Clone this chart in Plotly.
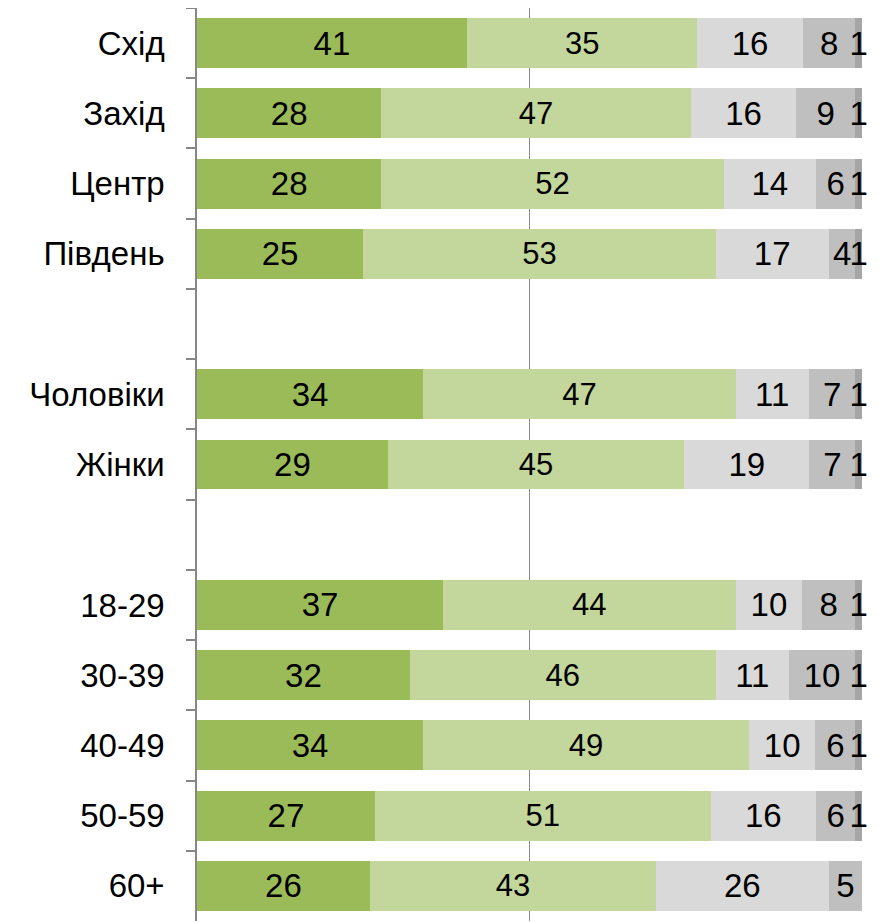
import plotly.graph_objects as go

categories = ["Схід", "Захід", "Центр", "Південь", " ",
              "Чоловіки", "Жінки", "  ",
              "18-29", "30-39", "40-49", "50-59", "60+"]

series_names = ["Варіант 1", "Варіант 2", "Варіант 3", "Варіант 4", "Варіант 5"]

s1 = [41, 28, 28, 25, None, 34, 29, None, 37, 32, 34, 27, 26]
s2 = [35, 47, 52, 53, None, 47, 45, None, 44, 46, 49, 51, 43]
s3 = [16, 16, 14, 17, None, 11, 19, None, 10, 11, 10, 16, 26]
s4 = [8, 9, 6, 4, None, 7, 7, None, 8, 10, 6, 6, 5]
s5 = [1, 1, 1, 1, None, 1, 1, None, 1, 1, 1, 1, None]

colors = ["#9BBB59", "#C3D69B", "#D9D9D9", "#BFBFBF", "#A6A6A6"]
font_sizes = [33, 31, 33, 33, 33]

fig = go.Figure()
for name, vals, col, fs in zip(series_names, [s1, s2, s3, s4, s5], colors, font_sizes):
    fig.add_trace(go.Bar(
        name=name,
        y=categories,
        x=vals,
        orientation="h",
        marker=dict(color=col, line=dict(width=0)),
        text=["" if v is None else str(v) for v in vals],
        texttemplate="%{text}",
        textposition="inside",
        insidetextanchor="middle",
        constraintext="none",
        insidetextfont=dict(color="black", size=fs, family="Liberation Sans, Arial"),
        cliponaxis=False,
        hoverinfo="skip",
    ))

fig.update_layout(
    barmode="stack",
    barnorm="percent",
    bargap=0.29,
    width=871,
    height=914,
    margin=dict(l=189, r=17, t=0, b=1),
    paper_bgcolor="white",
    plot_bgcolor="white",
    showlegend=False,
    font=dict(family="Liberation Sans, Arial", color="black", size=30),
    xaxis=dict(
        range=[0, 100],
        dtick=50,
        showgrid=True,
        gridcolor="#878787",
        gridwidth=1.3,
        zeroline=False,
        showticklabels=False,
        ticks="",
        showline=False,
    ),
    yaxis=dict(
        type="category",
        categoryorder="array",
        categoryarray=categories,
        autorange="reversed",
        showline=True,
        linecolor="#878787",
        linewidth=1.5,
        ticks="outside",
        tickson="boundaries",
        ticklen=9,
        tickcolor="#878787",
        tickwidth=1.5,
        showgrid=False,
        ticklabelstandoff=24,
        tickfont=dict(size=33, color="black", family="Liberation Sans, Arial"),
    ),
)

fig.write_html("out.html")
